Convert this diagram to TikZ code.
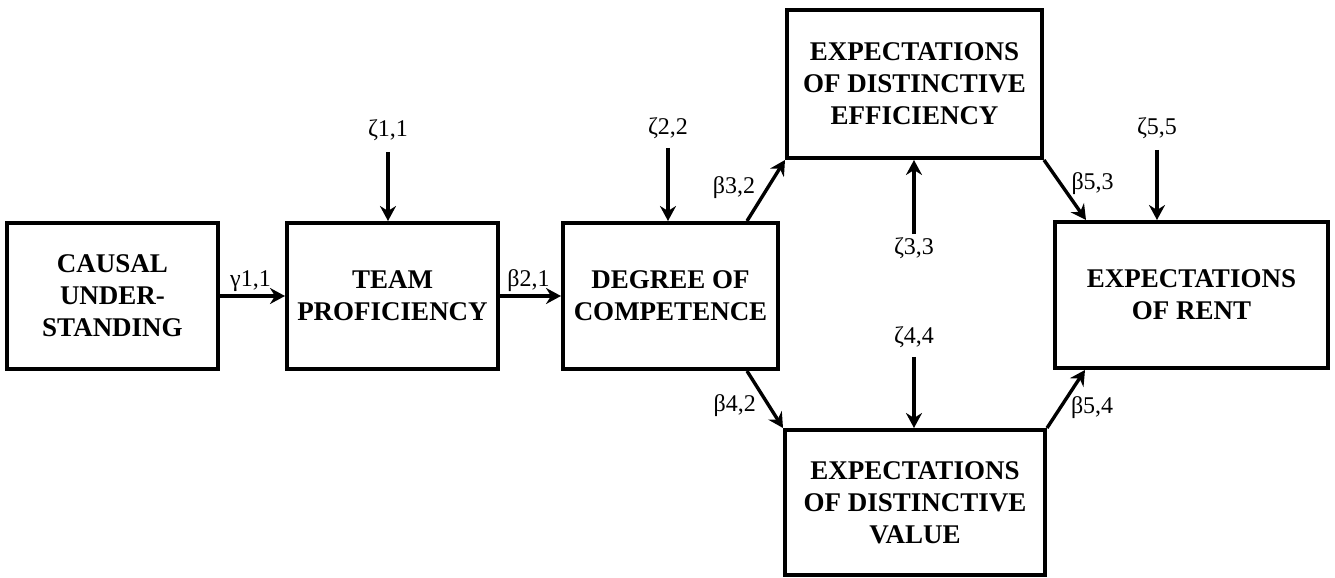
\documentclass[tikz,border=0pt]{standalone}
\usepackage{fontspec}
\setmainfont{Liberation Serif}
\usetikzlibrary{arrows.meta,positioning,calc}

\begin{document}
\begin{tikzpicture}[
    x=0.5pt, y=-0.5pt,
    construct/.style={draw, line width=2pt, align=center, inner sep=0pt, minimum height=73pt, font=\bfseries\fontsize{13.5}{16}\selectfont},
    arr/.style={-{Stealth[length=7.5pt,width=8pt,inset=2.5pt]}, line width=1.7pt},
    lbl/.style={font=\fontsize{12}{14}\selectfont, inner sep=1.5pt}
]
\useasboundingbox (0,0) rectangle (1335,578);

\node[construct, minimum width=105.5pt] (causal) at (112.5,296) {CAUSAL\\UNDER-\\STANDING};
\node[construct, minimum width=105.5pt] (team) at (392.5,296) {TEAM\\PROFICIENCY};
\node[construct, minimum width=107.5pt] (degree) at (670.5,296) {DEGREE OF\\COMPETENCE};
\node[construct, minimum width=127.5pt, minimum height=74pt] (eff) at (914.5,84) {EXPECTATIONS\\OF DISTINCTIVE\\EFFICIENCY};
\node[construct, minimum width=130pt, minimum height=72.5pt] (value) at (915,502.5) {EXPECTATIONS\\OF DISTINCTIVE\\VALUE};
\node[construct, minimum width=136.5pt] (rent) at (1191.5,295) {EXPECTATIONS\\OF RENT};

\node[lbl] (z11) at (388,130) {ζ1,1};
\node[lbl] (z22) at (668,128) {ζ2,2};
\node[lbl] (z33) at (914,248) {ζ3,3};
\node[lbl] (z44) at (914,337) {ζ4,4};
\node[lbl] (z55) at (1157,128) {ζ5,5};

\draw[arr] (causal) -- (team) node[lbl,midway,above,xshift=-1pt] {γ1,1};
\draw[arr] (team) -- (degree) node[lbl,midway,above,xshift=-1pt] {β2,1};

\draw[arr] ([xshift=-16.5pt]degree.north east) -- (eff.south west) node[lbl,pos=0.55,left,xshift=-4pt] {β3,2};
\draw[arr] ([xshift=-16.5pt]degree.south east) -- (value.north west) node[lbl,pos=0.6,left,xshift=-4pt] {β4,2};
\draw[arr] (eff.south east) -- ([xshift=16.5pt]rent.north west) node[lbl,pos=0.4,right,xshift=3pt] {β5,3};
\draw[arr] (value.north east) -- ([xshift=16pt]rent.south west) node[lbl,pos=0.35,right,xshift=3pt] {β5,4};

\draw[arr, shorten <=4pt] (z11) -- (z11 |- team.north);
\draw[arr, shorten <=3pt] (z22) -- (z22 |- degree.north);
\draw[arr] (z33) -- (z33 |- eff.south);
\draw[arr, shorten <=3pt] (z44) -- (z44 |- value.north);
\draw[arr, shorten <=4pt] (z55) -- (z55 |- rent.north);
\end{tikzpicture}
\end{document}
